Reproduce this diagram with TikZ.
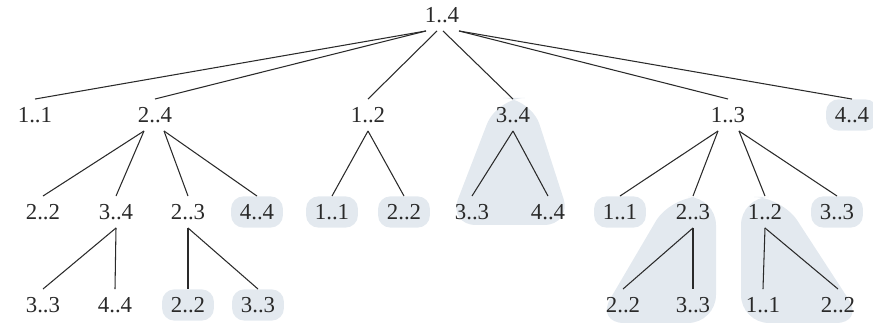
\documentclass[tikz,border=0pt]{standalone}
\usepackage{fontspec}
\setmainfont{Liberation Serif}
\usepackage{xcolor}
\usepackage{tikz}
\usetikzlibrary{backgrounds,calc}
\definecolor{shade}{HTML}{E3E9EF}
\definecolor{ink}{HTML}{2A2A2A}

\begin{document}
\begin{tikzpicture}[
  x=0.02cm,y=-0.02cm,
  lbl/.style={font=\fontsize{13}{15}\selectfont,text=ink,inner xsep=3pt,inner ysep=4.5pt},
  pill/.style={lbl,fill=shade,rounded corners=7pt,inner xsep=5pt},
  ln/.style={draw=ink,line width=0.6pt},
  region/.style={fill=shade,rounded corners=16pt}
]
\useasboundingbox (0,0) rectangle (873,324);
% root and first level
\node[lbl] (r) at (442,15) {1..4};
\node[lbl] (a) at (35,115) {1..1};
\node[lbl] (b) at (155,115) {2..4};
\node[lbl] (c) at (368,115) {1..2};
\node[lbl] (d) at (513,115) {3..4};
\node[lbl] (e) at (728,115) {1..3};
\node[pill] (f) at (852,115) {4..4};
% second level
\node[lbl] (b1) at (43,212) {2..2};
\node[lbl] (b2) at (116,212) {3..4};
\node[lbl] (b3) at (188,212) {2..3};
\node[pill] (b4) at (257,212) {4..4};
\node[pill] (c1) at (332,212) {1..1};
\node[pill] (c2) at (404,212) {2..2};
\node[lbl] (d1) at (472,212) {3..3};
\node[lbl] (d2) at (548,212) {4..4};
\node[pill] (e1) at (620,212) {1..1};
\node[lbl] (e2) at (693,212) {2..3};
\node[lbl] (e3) at (765,212) {1..2};
\node[pill] (e4) at (837,212) {3..3};
% third level
\node[lbl] (b21) at (43,305) {3..3};
\node[lbl] (b22) at (115,305) {4..4};
\node[pill] (b31) at (188,305) {2..2};
\node[pill] (b32) at (258,305) {3..3};
\node[lbl] (e21) at (623,305) {2..2};
\node[lbl] (e22) at (693,305) {3..3};
\node[lbl] (e31) at (763,305) {1..1};
\node[lbl] (e32) at (838,305) {2..2};
% shaded subtrees
\begin{scope}[on background layer]
\fill[region] (497,98) -- (531,98) -- (572,225) -- (448,225) -- cycle;
\fill[region] (670,197) -- (716,197) -- (716,323) -- (596,323) -- cycle;
\fill[region] (741,197) -- (782,197) -- (864,323) -- (741,323) -- cycle;
\end{scope}
% edges (parent, shift of start point, child)
\foreach \p/\dx/\c in {r/-16/a,r/-16/b,r/-5/c,r/1/d,r/17/e,r/17/f,
  b/-11/b1,b/-11/b2,b/9/b3,b/9/b4,c/0/c1,c/0/c2,d/0/d1,d/0/d2,
  e/-10/e1,e/-10/e2,e/11/e3,e/11/e4,b2/0/b21,b2/0/b22,b3/0/b31,b3/0/b32,
  e2/0/e21,e2/0/e22,e3/0/e31,e3/0/e32}
  \draw[ln] ($(\p.south)+(\dx,0)$) -- (\c.north);
\end{tikzpicture}
\end{document}
